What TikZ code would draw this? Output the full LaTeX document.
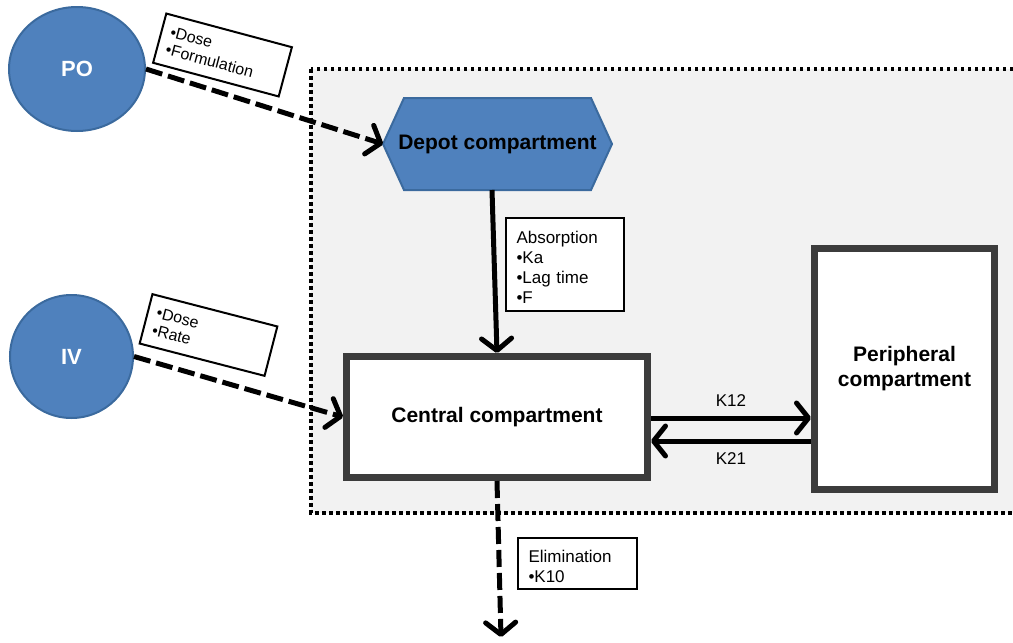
\documentclass[tikz,border=0pt]{standalone}
\usepackage{fontspec}
\setmainfont{Liberation Sans}
\usetikzlibrary{arrows.meta,shapes.geometric,calc}
\definecolor{cblue}{HTML}{4F81BD}
\definecolor{cblueline}{HTML}{3B6A9E}
\definecolor{panel}{HTML}{F2F2F2}
\definecolor{frame}{HTML}{3C3C3C}
\tikzset{
  dose/.style={ellipse, fill=cblue, draw=cblueline, line width=2pt, text=white,
    font=\bfseries\fontsize{22}{26}\selectfont},
  compbox/.style={rectangle, fill=white, draw=frame, line width=7pt,
    font=\bfseries\fontsize{21}{25}\selectfont, align=center},
  note/.style={rectangle, draw=black, line width=2pt, fill=white, align=left,
    font=\fontsize{17}{20}\selectfont, inner sep=0pt, anchor=north west},
  tiltnote/.style={rectangle, draw=black, line width=2pt, fill=white, align=left,
    font=\fontsize{16}{18}\selectfont, inner sep=0pt},
  flow/.style={line width=5pt, -{Straight Barb[length=12pt,width=30pt,round]}},
  dflow/.style={flow, dash pattern=on 17pt off 6pt},
  ratelabel/.style={font=\fontsize{17}{20}\selectfont}
}
\begin{document}
\begin{tikzpicture}[x=1pt,y=-1pt]
\useasboundingbox (0,0) rectangle (1013,643);
\clip (0,0) rectangle (1013,643);

% model boundary
\fill[panel] (311,69) rectangle (1030,513);
\draw[line width=3.5pt, dash pattern=on 3.5pt off 3.5pt] (311,69) rectangle (1030,513);

% dosing routes
\node[dose, minimum width=136pt, minimum height=124pt] (po) at (77,69) {PO};
\node[dose, minimum width=123pt, minimum height=123pt] (iv) at (71.5,356.5) {IV};

% depot compartment (hexagon)
\coordinate (dW) at (383,144);
\coordinate (dE) at (612,144);
\coordinate (dNW) at (404,98);
\coordinate (dNE) at (591,98);
\coordinate (dSW) at (404,190);
\coordinate (dSE) at (591,190);
\filldraw[fill=cblue, draw=cblueline, line width=2pt]
  (dW) -- (dNW) -- (dNE) -- (dE) -- (dSE) -- (dSW) -- cycle;
\node[font=\bfseries\fontsize{21}{25}\selectfont] (depot) at (497.5,144) {Depot compartment};
\coordinate (dOut) at (492,190);

% central and peripheral compartments
\node[compbox, minimum width=301pt, minimum height=121pt] (central) at (497,417) {Central compartment};
\node[compbox, minimum width=180pt, minimum height=241pt] (peri) at (904.5,369) {Peripheral\\compartment};

% parameter notes
\node[tiltnote, minimum width=130pt, minimum height=51pt, rotate=-15,
  text width=112pt] (ponote) at (222.5,55) {•Dose\\•Formulation};
\node[tiltnote, minimum width=129pt, minimum height=51pt, rotate=-14.5,
  text width=111pt] (ivnote) at (208.5,335) {•Dose\\•Rate};
\node[note, minimum width=118pt, minimum height=93pt, text width=97pt]
  (absnote) at (505,217) {\rule{0pt}{18pt}Absorption\\•Ka\\•Lag time\\•F};
\node[note, minimum width=119pt, minimum height=51pt, text width=98pt]
  (elimnote) at (517,537) {\rule{0pt}{18pt}Elimination\\•K10};

% flows
\draw[dflow] (po.east) -- (dW);
\draw[dflow] (iv.east) -- (central.west);
\draw[flow] (dOut) -- (central.north);

\coordinate (k12y) at (0,418);
\coordinate (k21y) at (0,441);
\draw[flow] (central.east |- k12y) -- (peri.west |- k12y)
  node[midway, above=6pt, ratelabel] (k12) {K12};
\draw[flow] (peri.west |- k21y) -- (central.east |- k21y)
  node[midway, below=6pt, ratelabel] (k21) {K21};

\coordinate (sink) at (501,637);
\draw[dflow] (central.south) -- (sink);
\end{tikzpicture}
\end{document}
